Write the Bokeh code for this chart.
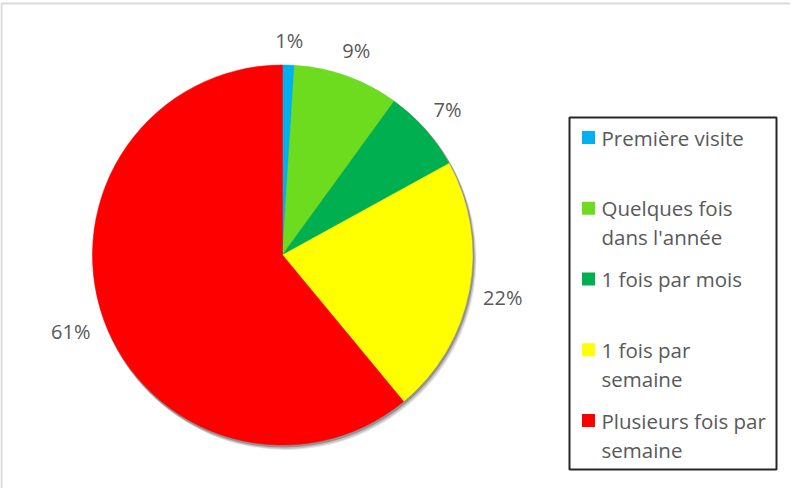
import numpy as np
from bokeh.plotting import figure
from bokeh.models import ColumnDataSource, Range1d, BoxAnnotation
from bokeh.core.properties import value
from bokeh.embed import file_html
from bokeh.resources import INLINE

# ---- data ----
categories = ["Première visite", "Quelques fois\ndans l'année", "1 fois par mois",
              "1 fois par\nsemaine", "Plusieurs fois par\nsemaine"]
percent = [1, 9, 7, 22, 61]
colors = ["#00B0F0", "#6EDC1E", "#00B050", "#FFFF00", "#FF0000"]

# ---- layout (pixel-like data coordinates) ----
W, H = 790, 488
CX, CY, R = 282, 233.5, 190
FONT = "Open Sans"
TXT = "#595959"

p = figure(width=W, height=H, output_backend="svg", toolbar_location=None,
           x_range=Range1d(0, W), y_range=Range1d(0, H),
           x_axis_type=None, y_axis_type=None, min_border=0,
           outline_line_color=None, background_fill_color="white")
p.grid.visible = False

# outer chart border
p.add_layout(BoxAnnotation(left=1, right=2000, top=485, bottom=-2000,
                           fill_alpha=0, line_color="#d9d9d9", line_alpha=1,
                           line_width=2))

vals = np.array(percent, dtype=float)
frac = vals / vals.sum()
cum = np.cumsum(frac)
prev = np.concatenate([[0], cum[:-1]])
start = np.pi / 2 - 2 * np.pi * cum
end = np.pi / 2 - 2 * np.pi * prev
mid = (prev + cum) / 2 * 2 * np.pi  # clockwise from top

# soft shadow
for dx, dy, a in [(3, -4, 0.10), (2, -3, 0.15), (1, -1.5, 0.25)]:
    p.scatter(x=[CX + dx], y=[CY + dy], size=2 * R + 2, marker="circle",
              fill_color="black", fill_alpha=a, line_color=None)

src = ColumnDataSource(dict(start=start, end=end, color=colors))
p.wedge(x=CX, y=CY, radius=R, start_angle="start", end_angle="end",
        fill_color="color", line_color="color", line_width=0.5, source=src)

# data labels
labels = [f"{v}%" for v in percent]
hw = np.array([len(s) * 6.5 for s in labels])
hh = 11
ext = hw * np.abs(np.sin(mid)) + hh * np.abs(np.cos(mid))
rl = R + 13 + ext
lx = CX + rl * np.sin(mid)
ly = CY + rl * np.cos(mid)
p.text(x=lx, y=ly, text=labels, text_font=value(FONT), text_font_size="20px",
       text_color=TXT, text_align="center", text_baseline="middle")

# legend
LX0, LX1, LY0, LY1 = 569, 776, 19, 371
p.add_layout(BoxAnnotation(left=LX0, right=LX1, bottom=LY0, top=LY1,
                           fill_alpha=0, line_color="#262626", line_alpha=1,
                           line_width=2))
first_y = 351
step = 70.75
line_h = 29
sq_y = [first_y - i * step for i in range(len(categories))]
p.scatter(x=[588] * len(categories), y=sq_y, marker="square", size=13,
          fill_color=colors, line_color=None)
tx, ty, tt = [], [], []
for i, c in enumerate(categories):
    for j, line in enumerate(c.split("\n")):
        tx.append(601)
        ty.append(sq_y[i] - j * line_h)
        tt.append(line)
p.text(x=tx, y=ty, text=tt, text_font=value(FONT), text_font_size="20.5px",
       text_color=TXT, text_align="left", text_baseline="middle")

open("out.html", "w").write(file_html(p, INLINE))
